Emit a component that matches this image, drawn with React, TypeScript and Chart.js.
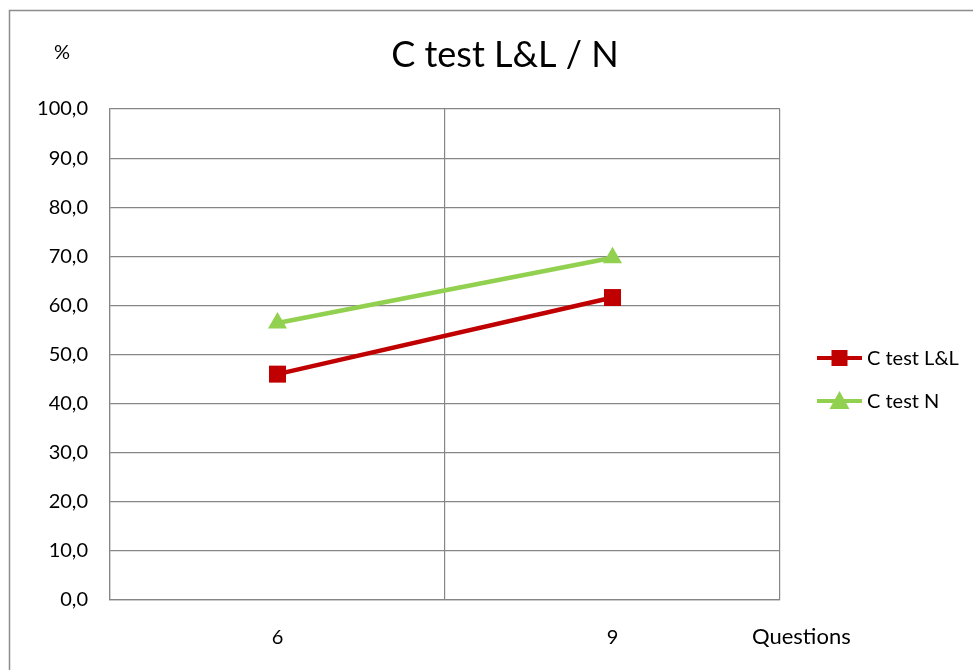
import React, { useEffect, useRef } from "react";
import { Chart, registerables } from "chart.js";

Chart.register(...registerables);

const categories = ["6", "9"];
const seriesNames = ["C test L&L", "C test N"];
const valuesLL = [46.0, 61.6];
const valuesN = [56.4, 69.7];
const titleText = "C test L&L / N";
const yUnitText = "%";
const xTitleText = "Questions";

const RED = "#C00000";
const GREEN = "#92D050";
const GRID = "#868686";
const FONT = "Lato";

const decorPlugin = {
  id: "decor",
  beforeDraw(chart: any) {
    const ctx = chart.ctx;
    ctx.save();
    ctx.fillStyle = "#ffffff";
    ctx.fillRect(0, 0, chart.width, chart.height);
    ctx.strokeStyle = "#8C8C8C";
    ctx.lineWidth = 1.5;
    ctx.strokeRect(9.5, 10.5, chart.width + 40, chart.height + 40);
    ctx.restore();
  },
  afterDraw(chart: any) {
    const ctx = chart.ctx;
    const area = chart.chartArea;
    ctx.save();
    ctx.fillStyle = "#000000";
    ctx.textBaseline = "middle";
    // title
    ctx.font = `36px ${FONT}`;
    ctx.textAlign = "center";
    ctx.fillText(titleText, 505, 55);
    // unit
    ctx.font = `20px ${FONT}`;
    ctx.fillText(yUnitText, 62, 53);
    // x title
    ctx.font = `22px ${FONT}`;
    ctx.textAlign = "left";
    ctx.fillText(xTitleText, 752, 637);
    // legend
    const colors = [RED, GREEN];
    const styles = ["rect", "triangle"];
    const x0 = area.right + 37;
    const x1 = area.right + 82;
    const xm = (x0 + x1) / 2;
    for (let i = 0; i < seriesNames.length; i++) {
      const y = 358 + i * 43;
      ctx.strokeStyle = colors[i];
      ctx.lineWidth = 4;
      ctx.beginPath();
      ctx.moveTo(x0, y);
      ctx.lineTo(x1, y);
      ctx.stroke();
      ctx.fillStyle = colors[i];
      if (styles[i] === "rect") {
        ctx.fillRect(xm - 8, y - 8, 16, 16);
      } else {
        ctx.beginPath();
        ctx.moveTo(xm, y - 10);
        ctx.lineTo(xm + 10, y + 8);
        ctx.lineTo(xm - 10, y + 8);
        ctx.closePath();
        ctx.fill();
      }
      ctx.fillStyle = "#000000";
      ctx.font = `20px ${FONT}`;
      ctx.textAlign = "left";
      ctx.fillText(seriesNames[i], x1 + 5, y + 1);
    }
    ctx.restore();
  },
};

export default function App() {
  const ref = useRef<HTMLCanvasElement | null>(null);

  useEffect(() => {
    document.body.style.margin = "0";
    const canvas = ref.current!;
    const chart = new Chart(canvas, {
      type: "line",
      data: {
        labels: categories,
        datasets: [
          {
            label: seriesNames[0],
            data: valuesLL,
            borderColor: RED,
            backgroundColor: RED,
            borderWidth: 4.5,
            pointStyle: "rect",
            pointRadius: 12,
            pointBorderWidth: 0,
            pointBackgroundColor: RED,
          },
          {
            label: seriesNames[1],
            data: valuesN,
            borderColor: GREEN,
            backgroundColor: GREEN,
            borderWidth: 4.5,
            pointStyle: "triangle",
            pointRadius: 11,
            pointBorderWidth: 0,
            pointBackgroundColor: GREEN,
          },
        ],
      },
      options: {
        responsive: false,
        animation: false,
        devicePixelRatio: 1,
        layout: { padding: { left: 10, top: 109, right: 193, bottom: 0 } },
        plugins: {
          legend: { display: false },
          title: { display: false },
          tooltip: { enabled: false },
        },
        scales: {
          x: {
            type: "category",
            offset: true,
            grid: {
              offset: true,
              color: GRID,
              lineWidth: 1.2,
              drawTicks: false,
            },
            border: { color: GRID, width: 1.2 },
            ticks: {
              padding: 26,
              color: "#000000",
              font: { family: FONT, size: 20 },
              maxRotation: 0,
            },
            afterFit(scale: any) {
              scale.height = 70;
            },
          },
          y: {
            min: 0,
            max: 100,
            grid: { color: GRID, lineWidth: 1.2, drawTicks: false },
            border: { color: GRID, width: 1.2 },
            ticks: {
              stepSize: 10,
              padding: 22,
              color: "#000000",
              font: { family: FONT, size: 20 },
              callback: (v: any) => Number(v).toFixed(1).replace(".", ","),
            },
            afterFit(scale: any) {
              scale.width = 100;
            },
          },
        },
      },
      plugins: [decorPlugin],
    });
    return () => chart.destroy();
  }, []);

  return (
    <div style={{ width: 973, height: 670, position: "relative" }}>
      <canvas ref={ref} width={973} height={670} style={{ width: 973, height: 670, display: "block" }} />
    </div>
  );
}
